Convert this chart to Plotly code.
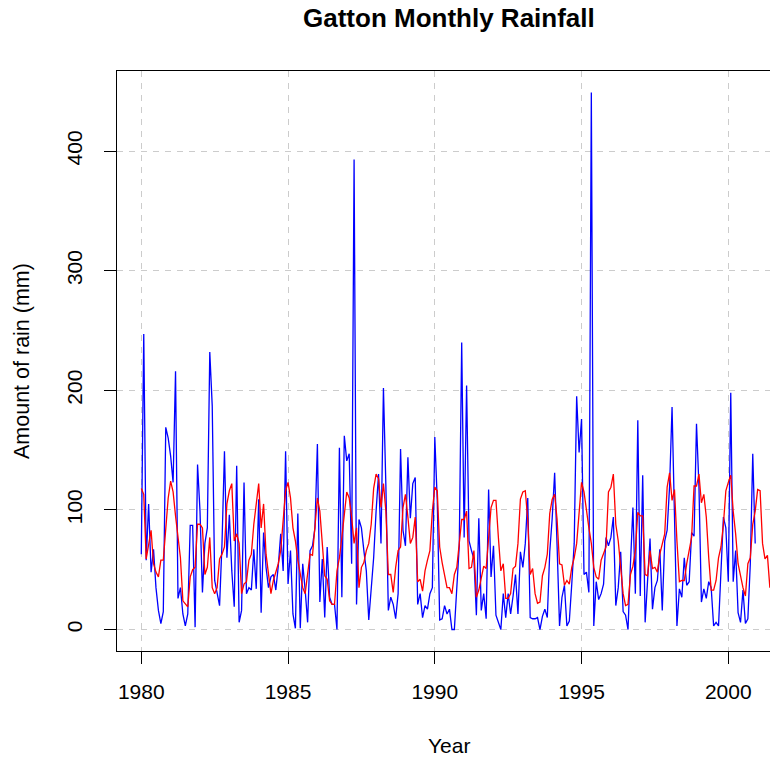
import plotly.graph_objects as go

# Monthly observed rainfall (mm), Jan 1980 - Dec 2000
rain_observed = [
    63, 247, 58, 105, 48, 67, 35, 16, 5, 15, 169, 160,      # 1980
    145, 123, 216, 26, 35, 13, 3, 13, 87, 87, 2, 138,       # 1981
    99, 31, 72, 85, 232, 187, 41, 30, 20, 72, 149, 60,      # 1982
    96, 49, 19, 137, 6, 16, 123, 30, 35, 33, 67, 34,        # 1983
    109, 14, 81, 52, 35, 44, 46, 33, 53, 80, 49, 149,       # 1984
    38, 66, 13, 1, 97, 1, 55, 33, 6, 66, 70, 85,            # 1985
    155, 23, 59, 10, 69, 27, 21, 21, 0, 152, 27, 162,       # 1986
    141, 147, 55, 393, 21, 92, 85, 66, 49, 8, 35, 60,       # 1987
    99, 130, 72, 202, 120, 16, 27, 21, 9, 30, 151, 83,      # 1988
    70, 144, 93, 122, 127, 21, 30, 10, 20, 17, 30, 35,      # 1989
    161, 108, 8, 9, 20, 13, 17, 0, 0, 35, 70, 240,          # 1990
    77, 204, 74, 66, 59, 12, 93, 16, 30, 9, 117, 44,        # 1991
    70, 12, 6, 0, 30, 10, 30, 13, 28, 46, 13, 65,           # 1992
    52, 72, 110, 10, 9, 9, 10, 0, 11, 17, 10, 65,           # 1993
    93, 131, 70, 3, 27, 37, 3, 7, 38, 72, 195, 148,         # 1994
    176, 46, 48, 31, 449, 3, 40, 25, 30, 38, 77, 70,        # 1995
    77, 94, 20, 35, 65, 15, 12, 0, 55, 102, 30, 175,        # 1996
    28, 129, 6, 45, 76, 17, 35, 41, 67, 16, 74, 83,         # 1997
    120, 186, 80, 3, 34, 27, 60, 37, 40, 81, 78, 172,       # 1998
    120, 23, 34, 26, 40, 35, 3, 6, 3, 55, 94, 85,           # 1999
    40, 198, 40, 66, 14, 6, 33, 5, 9, 55, 147, 72,          # 2000
]

# Fitted / smoothed rainfall (mm), Jan 1980 - Jun 2001
rain_fitted = [
    118, 113, 59, 70, 83, 55, 48, 44, 58, 58, 85, 110,      # 1980
    124, 115, 95, 77, 60, 24, 21, 19, 44, 50, 52, 88,       # 1981
    88, 85, 46, 52, 77, 35, 30, 35, 59, 63, 69, 105,        # 1982
    116, 122, 74, 80, 72, 30, 38, 40, 58, 63, 88, 106,      # 1983
    122, 85, 105, 63, 44, 30, 41, 48, 55, 66, 94, 116,      # 1984
    123, 110, 85, 74, 58, 46, 35, 30, 46, 63, 62, 88,       # 1985
    110, 99, 72, 45, 42, 24, 21, 21, 49, 60, 77, 99,        # 1986
    115, 110, 94, 72, 85, 35, 52, 56, 66, 72, 88, 118,      # 1987
    130, 126, 102, 122, 99, 46, 46, 31, 52, 66, 69, 102,    # 1988
    113, 94, 72, 77, 94, 40, 42, 32, 49, 58, 66, 99,        # 1989
    119, 116, 69, 56, 45, 35, 35, 30, 46, 52, 72, 92,       # 1990
    92, 99, 51, 52, 66, 27, 33, 44, 53, 51, 81, 102,        # 1991
    108, 108, 77, 49, 55, 26, 26, 30, 51, 53, 72, 109,      # 1992
    115, 116, 92, 46, 51, 30, 22, 23, 45, 52, 63, 97,       # 1993
    109, 113, 92, 55, 54, 37, 41, 38, 52, 60, 72, 99,       # 1994
    123, 115, 99, 85, 72, 52, 44, 42, 58, 63, 69, 115,      # 1995
    119, 130, 88, 74, 49, 30, 20, 21, 46, 53, 66, 98,       # 1996
    95, 95, 46, 45, 66, 51, 52, 48, 63, 72, 80, 119,        # 1997
    131, 108, 117, 74, 40, 41, 41, 55, 66, 77, 120, 120,    # 1998
    130, 106, 113, 94, 60, 33, 33, 41, 60, 69, 88, 116,     # 1999
    123, 129, 99, 80, 55, 44, 35, 28, 55, 60, 88, 99,       # 2000
    117, 116, 72, 59, 62, 35,                               # 2001
]

start_year = 1980
x_ticks = [1980, 1985, 1990, 1995, 2000]
y_ticks = [0, 100, 200, 300, 400]

t_obs = [start_year + i / 12 for i in range(len(rain_observed))]
t_fit = [start_year + i / 12 for i in range(len(rain_fitted))]

FONT = "Liberation Sans, Arial, Helvetica, sans-serif"

fig = go.Figure()
fig.add_trace(go.Scatter(x=t_obs, y=rain_observed, mode="lines",
                         line=dict(color="#0000FF", width=1.3),
                         showlegend=False, hoverinfo="skip"))
fig.add_trace(go.Scatter(x=t_fit, y=rain_fitted, mode="lines",
                         line=dict(color="#FF0000", width=1.3),
                         showlegend=False, hoverinfo="skip"))

px_per_year = 29.35
plot_w = 770 - 117
x0 = 1980 - (141.3 - 117) / px_per_year
x1 = x0 + plot_w / px_per_year

fig.update_layout(
    width=770, height=758,
    margin=dict(l=117, r=0, t=71, b=107),
    paper_bgcolor="white", plot_bgcolor="white",
    font=dict(family=FONT, size=21, color="black"),
    xaxis=dict(range=[x0, x1], tickvals=x_ticks, ticks="outside", ticklen=12,
               tickcolor="black", tickwidth=1, showline=True, mirror=True,
               linecolor="black", linewidth=1, showgrid=True,
               gridcolor="#CCCCCC", gridwidth=1, griddash="6px,6px",
               zeroline=False, ticklabelstandoff=10,
               tickfont=dict(family=FONT, size=21, color="black")),
    yaxis=dict(range=[-17.96, 466.96], tickvals=y_ticks, ticks="outside", ticklen=12,
               tickcolor="black", tickwidth=1, showline=True, mirror=False,
               linecolor="black", linewidth=1, showgrid=True,
               gridcolor="#CCCCCC", gridwidth=1, griddash="6px,6px",
               zeroline=False, tickangle=-90, ticklabelstandoff=14,
               tickfont=dict(family=FONT, size=21, color="black")),
    annotations=[
        dict(text="<b>Gatton Monthly Rainfall</b>", xref="paper", yref="paper",
             x=(448.5 - 117) / plot_w, y=1, yshift=53, xanchor="center", yanchor="middle",
             showarrow=False, font=dict(family=FONT, size=26, color="black")),
        dict(text="Year", xref="paper", yref="paper",
             x=(448.5 - 117) / plot_w, y=0, yshift=-94, xanchor="center", yanchor="middle",
             showarrow=False, font=dict(family=FONT, size=21, color="black")),
        dict(text="Amount of rain (mm)", xref="paper", yref="paper",
             x=0, xshift=-95, y=0.5, xanchor="center", yanchor="middle", textangle=-90,
             showarrow=False, font=dict(family=FONT, size=21.5, color="black")),
    ],
)

fig.write_html("out.html")
